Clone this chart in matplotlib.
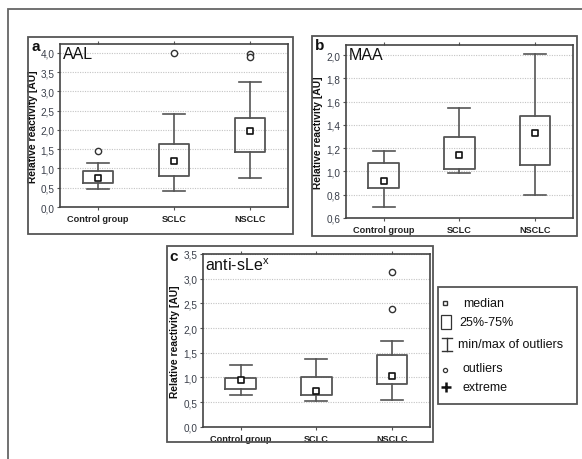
import matplotlib
matplotlib.use("Agg")
import matplotlib.pyplot as plt
from matplotlib.patches import Rectangle
from matplotlib.lines import Line2D
from matplotlib.ticker import FuncFormatter, MultipleLocator

# ---------------- data ----------------
categories = ["Control group", "SCLC", "NSCLC"]

aal_whislo = [0.46, 0.42, 0.75]
aal_q1 = [0.63, 0.81, 1.43]
aal_med = [0.74, 1.20, 1.96]
aal_q3 = [0.93, 1.63, 2.32]
aal_whishi = [1.14, 2.42, 3.25]
aal_fliers = [[1.46], [4.0], [3.97, 3.90]]

maa_whislo = [0.694, 0.984, 0.80]
maa_q1 = [0.855, 1.024, 1.055]
maa_med = [0.918, 1.144, 1.33]
maa_q3 = [1.075, 1.293, 1.479]
maa_whishi = [1.173, 1.548, 2.014]
maa_fliers = [[], [], []]

slex_whislo = [0.638, 0.53, 0.55]
slex_q1 = [0.76, 0.645, 0.868]
slex_med = [0.943, 0.733, 1.031]
slex_q3 = [0.997, 1.0, 1.445]
slex_whishi = [1.248, 1.364, 1.737]
slex_fliers = [[], [], [3.13, 2.395]]

panel_letters = ["a", "b", "c"]
panel_titles = ["AAL", "MAA", "anti-sLe$^{\\mathregular{x}}$"]
ylims = [(0, 4.23), (0.6, 2.09), (0, 3.5)]
ysteps = [0.5, 0.2, 0.5]
ylabel = "Relative reactivity [AU]"
legend_labels = ["median", "25%-75%", "min/max of outliers", "outliers", "extreme"]

W, H = 582, 460
fig = plt.figure(figsize=(W / 100, H / 100), dpi=100)
fig.patch.set_facecolor("white")

EDGE = "#555555"
TXT = "#3a3f4a"
NARROW = ["Liberation Sans Narrow", "Liberation Sans", "DejaVu Sans"]
SANS = ["Liberation Sans", "DejaVu Sans"]


def fig_rect(x0, y0, x1, y1, **kw):
    r = Rectangle((x0 / W, 1 - y1 / H), (x1 - x0) / W, (y1 - y0) / H,
                  transform=fig.transFigure, fill=False, **kw)
    fig.patches.append(r)


def ax_at(x0, y0, x1, y1):
    return fig.add_axes([x0 / W, 1 - y1 / H, (x1 - x0) / W, (y1 - y0) / H])


# outer frame and panel frames
fig_rect(8, 10, 600, 480, edgecolor="#666666", linewidth=1.3)
fig_rect(28, 37.7, 293, 235, edgecolor=EDGE, linewidth=1.3)
fig_rect(311.7, 37, 577, 236.7, edgecolor=EDGE, linewidth=1.3)
fig_rect(167, 247, 433, 443, edgecolor=EDGE, linewidth=1.3)

axes_boxes = [(60, 45, 288, 208), (345.7, 45.7, 573, 219), (202.7, 255, 430, 427.7)]
letter_pos = [(32, 47), (315, 46), (169, 257)]

data = [
    (aal_whislo, aal_q1, aal_med, aal_q3, aal_whishi, aal_fliers),
    (maa_whislo, maa_q1, maa_med, maa_q3, maa_whishi, maa_fliers),
    (slex_whislo, slex_q1, slex_med, slex_q3, slex_whishi, slex_fliers),
]

comma = FuncFormatter(lambda v, p: f"{v:.1f}".replace(".", ","))

for i in range(3):
    ax = ax_at(*axes_boxes[i])
    wl, q1, md, q3, wh, fl = data[i]
    stats = []
    for k in range(3):
        stats.append(dict(whislo=wl[k], q1=q1[k], med=md[k], q3=q3[k],
                          whishi=wh[k], fliers=fl[k], label=categories[k]))
    pos = list(range(len(categories)))
    ax.bxp(stats, positions=pos, widths=0.4, showfliers=True,
           boxprops=dict(color=EDGE, linewidth=1.3),
           whiskerprops=dict(color=EDGE, linewidth=1.2),
           capprops=dict(color=EDGE, linewidth=1.2),
           capwidths=0.29,
           medianprops=dict(linewidth=0),
           flierprops=dict(marker="o", markerfacecolor="white",
                           markeredgecolor="#333333", markersize=4.5,
                           markeredgewidth=1.0))
    ax.scatter(pos, md, marker="s", s=18, facecolor="white",
               edgecolor="#111111", linewidth=1.2, zorder=5)
    ax.set_xlim(-0.5, 2.5)
    ax.set_ylim(*ylims[i])
    ax.yaxis.set_major_locator(MultipleLocator(ysteps[i]))
    ax.yaxis.set_major_formatter(comma)
    ax.grid(axis="y", linestyle=(0, (1, 1.2)), color="#c4c4c4", linewidth=0.8)
    ax.set_axisbelow(True)
    ax.set_xticks(pos)
    ax.set_xticklabels(categories, fontweight="bold", fontsize=6.6,
                       family=NARROW, color="#222222")
    ax.tick_params(axis="x", which="both", top=True, bottom=True,
                   direction="out", length=2, width=0.8, color=EDGE, pad=3)
    ax.tick_params(axis="y", direction="out", length=2, width=0.8,
                   color=EDGE, labelsize=7.2, labelcolor=TXT, pad=2)
    for lab in ax.get_yticklabels():
        lab.set_family(SANS)
    for s in ax.spines.values():
        s.set_color("#444444")
        s.set_linewidth(1.2)
    ax.set_ylabel(ylabel, fontweight="bold", fontsize=7.4, family=NARROW,
                  color="#111111", labelpad=2)
    ax.text(0.012, 0.985, panel_titles[i], transform=ax.transAxes,
            ha="left", va="top", fontsize=11.5, family=SANS, color="#111111")
    lx, ly = letter_pos[i]
    fig.text(lx / W, 1 - ly / H, panel_letters[i], ha="left", va="center",
             fontsize=11, fontweight="bold", family=SANS, color="#111111")

# legend box
fig_rect(438, 288, 577, 405, edgecolor=EDGE, linewidth=1.3)
leg_y = [304, 323, 345, 369, 388]
leg_tx = [463, 459, 458, 463, 463]
for lbl, yy, tx in zip(legend_labels, leg_y, leg_tx):
    fig.text(tx / W, 1 - yy / H, lbl, ha="left", va="center",
             fontsize=9.0, family=SANS, color="#111111")


def fx(x):
    return x / W


def fy(y):
    return 1 - y / H


# median symbol
fig.patches.append(Rectangle((fx(443), fy(306)), 4 / W, 4 / H,
                             transform=fig.transFigure, fill=False,
                             edgecolor="#333333", linewidth=1.0))
# box symbol
fig.patches.append(Rectangle((fx(441), fy(330)), 10 / W, 14 / H,
                             transform=fig.transFigure, fill=False,
                             edgecolor="#333333", linewidth=0.9))
# whisker symbol
for seg in [((447, 447), (339, 352)), ((442, 452), (339, 339)), ((442, 452), (352, 352))]:
    fig.lines.append(Line2D([fx(v) for v in seg[0]], [fy(v) for v in seg[1]],
                            transform=fig.transFigure, color="#333333",
                            linewidth=1.0))
# outlier symbol
fig.lines.append(Line2D([fx(445)], [fy(371)], transform=fig.transFigure,
                        marker="o", markersize=3, markerfacecolor="white",
                        markeredgecolor="#333333", markeredgewidth=0.9,
                        linestyle="none"))
# extreme symbol
fig.lines.append(Line2D([fx(446)], [fy(388)], transform=fig.transFigure,
                        marker="+", markersize=7, markeredgewidth=1.8,
                        color="#111111", linestyle="none"))

fig.savefig("out.png", dpi=100)
